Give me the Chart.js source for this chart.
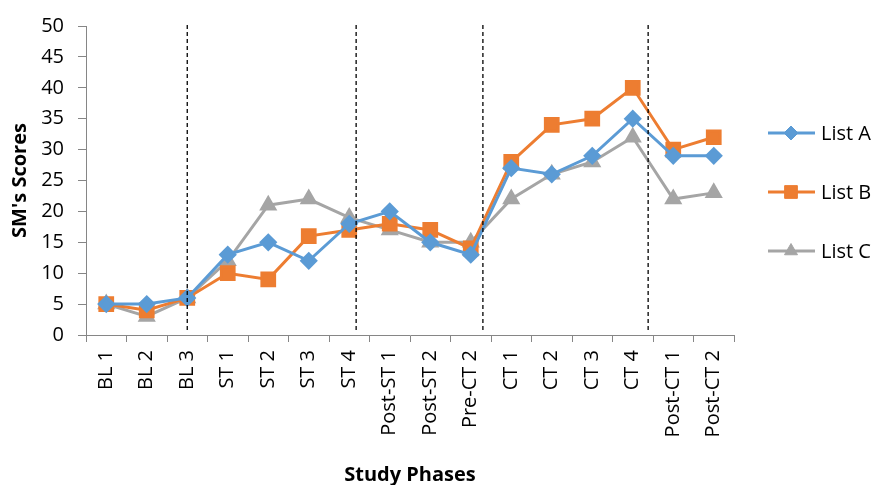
<!DOCTYPE html>
<html>
<head>
<meta charset="utf-8">
<script src="https://cdn.jsdelivr.net/npm/chart.js@4.4.1/dist/chart.umd.min.js"></script>
<style>
  html, body { margin: 0; padding: 0; background: #fff; }
  #wrap { width: 872px; height: 485px; position: relative; }
</style>
</head>
<body>
<div id="wrap"><canvas id="chart"></canvas></div>
<script>
const phases = ["BL 1", "BL 2", "BL 3", "ST 1", "ST 2", "ST 3", "ST 4", "Post-ST 1", "Post-ST 2", "Pre-CT 2",
    "CT 1", "CT 2", "CT 3", "CT 4", "Post-CT 1", "Post-CT 2"];
const listA = [5, 5, 6, 13, 15, 12, 18, 20, 15, 13, 27, 26, 29, 35, 29, 29];
const listB = [5, 4, 6, 10, 9, 16, 17, 18, 17, 14, 28, 34, 35, 40, 30, 32];
const listC = [5, 3, 6, 12, 21, 22, 19, 17, 15, 15, 22, 26, 28, 32, 22, 23];
// phase change lines, as category positions
const phaseBreaks = [2.0, 6.17, 9.3, 13.38];

const font = "'Open Sans', 'Noto Sans', sans-serif";

const phaseLines = {
    id: 'phaseLines',
    afterDatasetsDraw(chart) {
        const ctx = chart.ctx;
        const x = chart.scales.x;
        const area = chart.chartArea;
        ctx.save();
        ctx.strokeStyle = '#000';
        ctx.lineWidth = 1.3;
        ctx.setLineDash([4, 3]);
        phaseBreaks.forEach(p => {
            const i = Math.floor(p);
            const x0 = x.getPixelForValue(i);
            const x1 = x.getPixelForValue(i + 1);
            const px = x0 + (x1 - x0) * (p - i);
            ctx.beginPath();
            ctx.moveTo(px, area.top - 1);
            ctx.lineTo(px, area.bottom - 4);
            ctx.stroke();
        });
        ctx.restore();
    }
};

const sideLegend = {
    id: 'sideLegend',
    afterDraw(chart) {
        const ctx = chart.ctx;
        const rows = [133, 192, 251];
        chart.data.datasets.forEach((ds, k) => {
            const y = rows[k];
            ctx.save();
            ctx.strokeStyle = ds.borderColor;
            ctx.lineWidth = 3;
            ctx.beginPath();
            ctx.moveTo(768, y);
            ctx.lineTo(815, y);
            ctx.stroke();
            ctx.fillStyle = ds.borderColor;
            ctx.strokeStyle = ds.borderColor;
            ctx.lineWidth = 1;
            Chart.helpers.drawPoint(ctx, {
                pointStyle: ds.pointStyle,
                radius: ds.pointRadius,
                borderWidth: 1
            }, 791, y);
            ctx.fillStyle = '#000';
            ctx.font = "20px " + font;
            ctx.textBaseline = 'middle';
            ctx.fillText(ds.label, 821, y + 1);
            ctx.restore();
        });
    }
};

new Chart(document.getElementById('chart'), {
    type: 'line',
    data: {
        labels: phases,
        datasets: [
            {
                label: 'List A',
                data: listA,
                borderColor: '#5B9BD5',
                backgroundColor: '#5B9BD5',
                borderWidth: 3,
                pointStyle: 'rectRot',
                pointRadius: 7,
                pointHoverRadius: 7,
                tension: 0
            },
            {
                label: 'List B',
                data: listB,
                borderColor: '#ED7D31',
                backgroundColor: '#ED7D31',
                borderWidth: 3,
                pointStyle: 'rect',
                pointRadius: 9,
                pointHoverRadius: 9,
                tension: 0
            },
            {
                label: 'List C',
                data: listC,
                borderColor: '#A5A5A5',
                backgroundColor: '#A5A5A5',
                borderWidth: 3,
                pointStyle: 'triangle',
                pointRadius: 7.5,
                pointHoverRadius: 7.5,
                tension: 0
            }
        ]
    },
    options: {
        responsive: true,
        maintainAspectRatio: false,
        animation: false,
        layout: {
            padding: { top: 23, right: 138, left: 0, bottom: 0 }
        },
        plugins: {
            legend: { display: false },
            tooltip: { enabled: false }
        },
        scales: {
            x: {
                offset: true,
                afterFit: s => { s.height = 150; },
                grid: {
                    offset: true,
                    drawOnChartArea: false,
                    drawTicks: true,
                    tickLength: 7,
                    color: '#868686'
                },
                border: { color: '#868686', width: 1 },
                ticks: {
                    color: '#000',
                    font: { family: font, size: 20 },
                    maxRotation: 90,
                    minRotation: 90,
                    padding: 8,
                    autoSkip: false
                },
                title: {
                    display: true,
                    text: 'Study Phases',
                    color: '#000',
                    font: { family: font, size: 20, weight: 'bold', lineHeight: 1.0 },
                    padding: { top: 0, bottom: 0 }
                }
            },
            y: {
                min: 0,
                max: 50,
                afterFit: s => { s.width = 86; },
                grid: {
                    drawOnChartArea: false,
                    drawTicks: true,
                    tickLength: 8,
                    color: '#868686'
                },
                border: { color: '#868686', width: 1 },
                ticks: {
                    stepSize: 5,
                    color: '#000',
                    font: { family: font, size: 20 },
                    padding: 14
                },
                title: {
                    display: true,
                    text: "SM's Scores",
                    color: '#000',
                    font: { family: font, size: 20, weight: 'bold' },
                    padding: { top: 8, bottom: 0 }
                }
            }
        }
    },
    plugins: [phaseLines, sideLegend]
});
</script>
</body>
</html>
